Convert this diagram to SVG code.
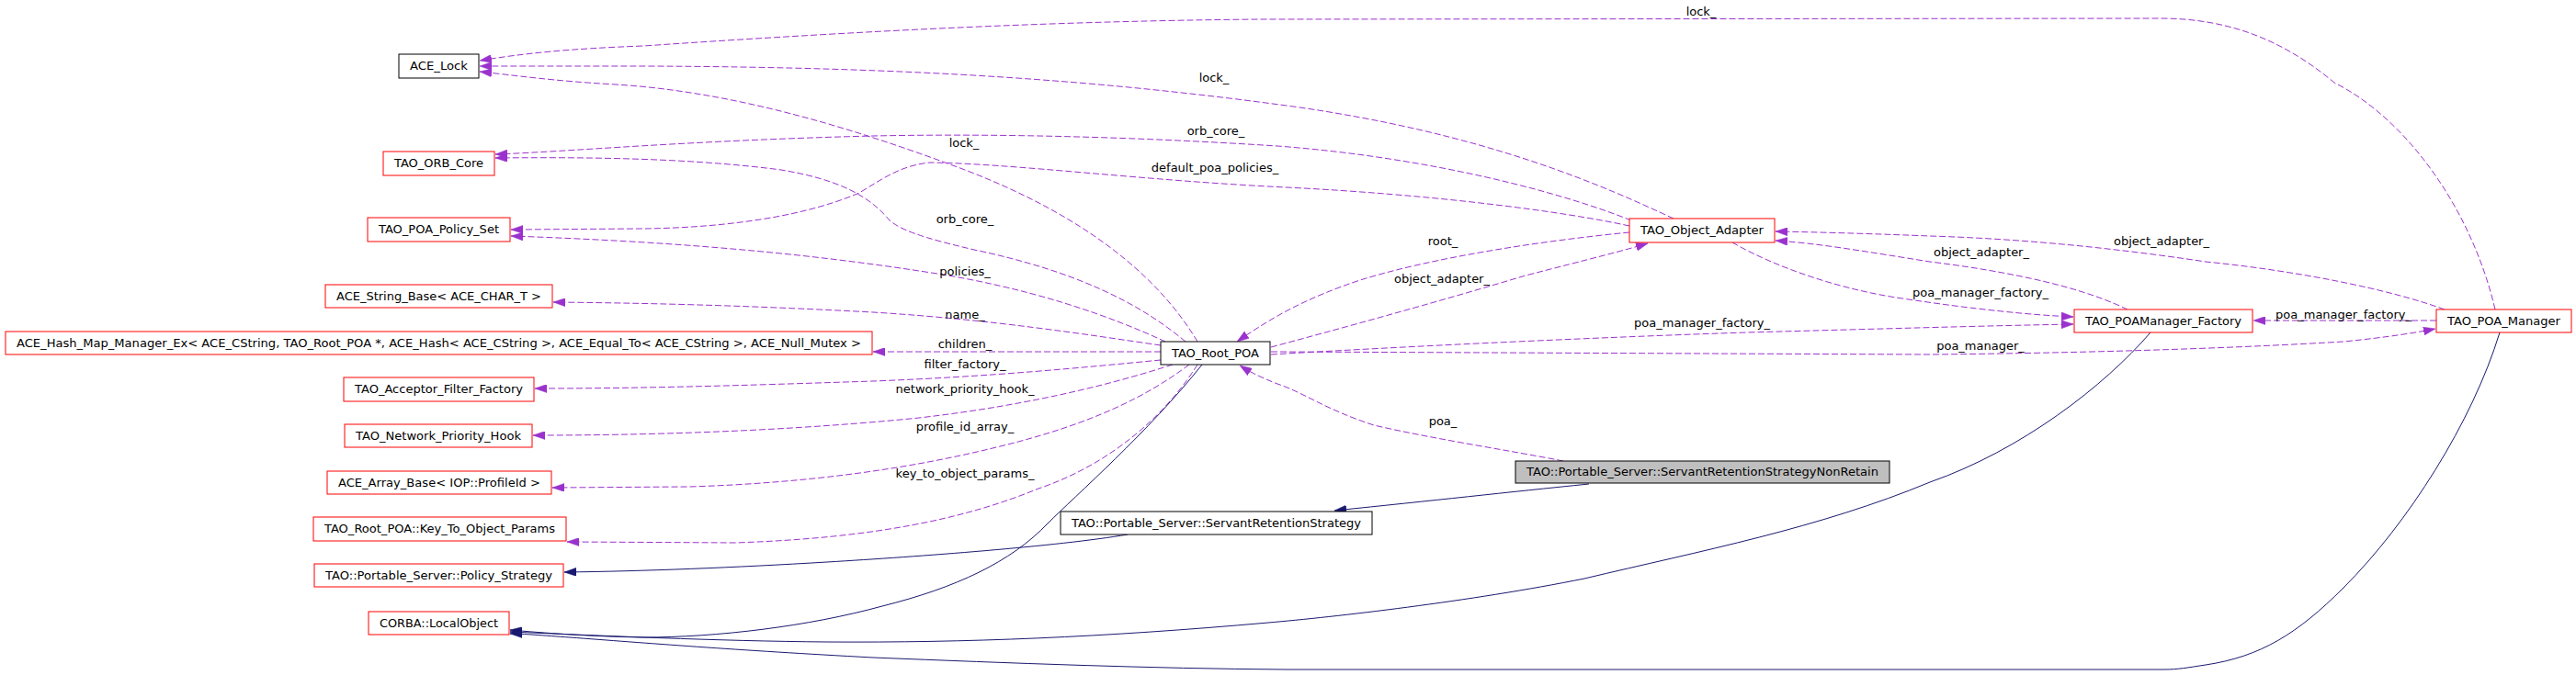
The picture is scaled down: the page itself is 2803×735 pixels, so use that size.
<svg xmlns="http://www.w3.org/2000/svg" width="2803" height="735" viewBox="0 0 2803 735">
<defs>
<style>
.n rect{fill:#ffffff;stroke-width:1}
.red rect{stroke:#ff0000}
.blk rect{stroke:#000000}
.cur rect{fill:#bfbfbf;stroke:#000000}
text{font-family:"DejaVu Sans","Liberation Sans",sans-serif;font-size:13px;fill:#000000;text-anchor:middle}
.u{fill:none;stroke:#9a32cd;stroke-width:1;stroke-dasharray:7,3;marker-end:url(#ap)}
.i{fill:none;stroke:#191970;stroke-width:1;marker-end:url(#ab)}
</style>
<marker id="ap" viewBox="0 0 13 9" refX="13" refY="4.5" markerWidth="13" markerHeight="9" markerUnits="userSpaceOnUse" orient="auto"><path d="M0,0 L13,4.5 L0,9 z" fill="#9a32cd" stroke="#9a32cd" stroke-width="0.5"/></marker>
<marker id="ab" viewBox="0 0 13 9" refX="13" refY="4.5" markerWidth="13" markerHeight="9" markerUnits="userSpaceOnUse" orient="auto"><path d="M0,0 L13,4.5 L0,9 z" fill="#191970" stroke="#191970" stroke-width="0.5"/></marker>
</defs>
<rect width="2803" height="735" fill="#ffffff"/>
<g id="connectors">
<path class="u" d="M2715,337 C2690,230 2620,130 2540,90 C2480,40 2420,20 2350,20 L1370,21 C1150,23 950,33 700,50 C620,53 570,58 522,66"/>
<path class="u" d="M1821,238 C1750,205 1620,145 1400,115 C1200,88 1000,73 700,72 L522,72"/>
<path class="u" d="M1303,372 C1260,300 1180,235 1050,185 C930,140 800,100 670,92 C600,88 560,82 522,78"/>
<path class="u" d="M1775,240 C1700,210 1560,172 1390,159 C1250,150 1100,145 950,148 C750,153 620,165 539,168"/>
<path class="u" d="M1290,372 C1240,330 1170,295 1060,272 C1000,258 980,250 968,240 C945,212 910,195 850,185 C750,172 640,171 539,172"/>
<path class="u" d="M1773,246 C1700,230 1560,212 1400,204 C1250,197 1100,178 1012,177 C980,180 960,195 935,210 C870,238 780,248 700,249 L556,250"/>
<path class="u" d="M1268,372 C1210,345 1120,312 1000,295 C850,272 700,262 556,257"/>
<path class="u" d="M1263,376 C1180,364 1080,348 950,340 C800,332 700,330 602,329"/>
<path class="u" d="M1263,383 L950,383"/>
<path class="u" d="M1263,392 C1180,400 1080,410 950,415 C800,420 700,423 582,423"/>
<path class="u" d="M1276,397 C1220,415 1130,440 1000,455 C850,470 700,474 580,474"/>
<path class="u" d="M1294,397 C1250,430 1190,462 1080,488 C990,510 880,526 750,530 L601,531"/>
<path class="u" d="M1303,397 C1270,450 1210,505 1130,532 C1050,565 950,586 800,591 L617,590"/>
<path class="u" d="M1773,253 C1680,262 1560,280 1480,305 C1420,325 1385,345 1346,372"/>
<path class="u" d="M1383,378 C1450,360 1560,330 1660,300 C1730,282 1770,272 1793,265"/>
<path class="u" d="M1701,502 C1640,490 1560,478 1495,463 C1440,445 1420,428 1390,418 C1372,411 1360,405 1349,398"/>
<path class="u" d="M1383,386 C1550,376 1750,367 1900,362 C2050,358 2150,355 2256,353"/>
<path class="u" d="M1885,264 C1930,290 2000,315 2070,325 C2150,337 2210,343 2256,345"/>
<path class="u" d="M2660,337 C2600,315 2500,295 2400,285 C2300,270 2200,260 2100,257 C2050,255 1990,253 1932,252"/>
<path class="u" d="M2315,337 C2280,320 2220,300 2100,285 C2030,274 1980,265 1932,262"/>
<path class="u" d="M2651,349 L2452,349"/>
<path class="u" d="M1383,383 L2100,386 C2300,384 2450,378 2550,372 C2600,367 2630,362 2650,358"/>
<path class="i" d="M1729,527 C1640,536 1560,545 1452,556"/>
<path class="i" d="M1227,582 C1150,595 1000,606 900,612 C800,618 700,622 614,623"/>
<path class="i" d="M1308,397 C1250,470 1170,540 1140,570 C1100,612 1040,640 960,660 C880,682 780,694 700,694 C640,693 590,689 555,686"/>
<path class="i" d="M2340,362 C2290,420 2200,490 2100,525 C1980,575 1850,600 1724,630 C1600,655 1450,672 1380,678 C1200,694 1050,700 900,699 C780,698 650,692 555,688"/>
<path class="i" d="M2720,362 C2690,460 2620,570 2550,640 C2500,690 2460,715 2400,724 C2380,727 2370,729 2355,729 L1400,729 C1250,728 1100,722 950,716 C800,708 700,700 620,694 C590,692 570,690 555,690"/>
<text x="1851" y="17">lock_</text>
<text x="1321" y="89">lock_</text>
<text x="1049" y="160">lock_</text>
<text x="1323" y="147">orb_core_</text>
<text x="1050" y="243">orb_core_</text>
<text x="1322" y="187">default_poa_policies_</text>
<text x="1050" y="300">policies_</text>
<text x="1050" y="347">name_</text>
<text x="1050" y="379">children_</text>
<text x="1050" y="401">filter_factory_</text>
<text x="1050" y="428">network_priority_hook_</text>
<text x="1050" y="469">profile_id_array_</text>
<text x="1050" y="520">key_to_object_params_</text>
<text x="1570" y="267">root_</text>
<text x="1569" y="308">object_adapter_</text>
<text x="1852" y="356">poa_manager_factory_</text>
<text x="1570" y="463">poa_</text>
<text x="2352" y="267">object_adapter_</text>
<text x="2156" y="279">object_adapter_</text>
<text x="2155" y="323">poa_manager_factory_</text>
<text x="2550" y="347">poa_manager_factory_</text>
<text x="2155" y="381">poa_manager_</text>
</g>
<g id="n_ACE_Lock" class="n blk"><rect x="434" y="59" width="87" height="26"/><text x="477.5" y="76" textLength="63" lengthAdjust="spacingAndGlyphs">ACE_Lock</text></g>
<g id="n_TAO_ORB_Core" class="n red"><rect x="417" y="165" width="121" height="26"/><text x="477.5" y="182" textLength="97" lengthAdjust="spacingAndGlyphs">TAO_ORB_Core</text></g>
<g id="n_TAO_POA_Policy_Set" class="n red"><rect x="400" y="237" width="155" height="26"/><text x="477.5" y="254" textLength="131" lengthAdjust="spacingAndGlyphs">TAO_POA_Policy_Set</text></g>
<g id="n_ACE_String_Base" class="n red"><rect x="354" y="310" width="247" height="25"/><text x="477.5" y="327" textLength="223" lengthAdjust="spacingAndGlyphs">ACE_String_Base&lt; ACE_CHAR_T &gt;</text></g>
<g id="n_ACE_Hash_Map_Manager_Ex" class="n red"><rect x="6" y="361" width="943" height="25"/><text x="477.5" y="378" textLength="919" lengthAdjust="spacingAndGlyphs">ACE_Hash_Map_Manager_Ex&lt; ACE_CString, TAO_Root_POA *, ACE_Hash&lt; ACE_CString &gt;, ACE_Equal_To&lt; ACE_CString &gt;, ACE_Null_Mutex &gt;</text></g>
<g id="n_TAO_Acceptor_Filter_Factory" class="n red"><rect x="374" y="411" width="207" height="26"/><text x="477.5" y="428" textLength="183" lengthAdjust="spacingAndGlyphs">TAO_Acceptor_Filter_Factory</text></g>
<g id="n_TAO_Network_Priority_Hook" class="n red"><rect x="375" y="462" width="204" height="25"/><text x="477" y="479" textLength="180" lengthAdjust="spacingAndGlyphs">TAO_Network_Priority_Hook</text></g>
<g id="n_ACE_Array_Base" class="n red"><rect x="356" y="513" width="244" height="25"/><text x="478" y="530" textLength="220" lengthAdjust="spacingAndGlyphs">ACE_Array_Base&lt; IOP::ProfileId &gt;</text></g>
<g id="n_Key_To_Object_Params" class="n red"><rect x="341" y="563" width="275" height="26"/><text x="478.5" y="580" textLength="251" lengthAdjust="spacingAndGlyphs">TAO_Root_POA::Key_To_Object_Params</text></g>
<g id="n_Policy_Strategy" class="n red"><rect x="342" y="614" width="271" height="25"/><text x="477.5" y="631" textLength="247" lengthAdjust="spacingAndGlyphs">TAO::Portable_Server::Policy_Strategy</text></g>
<g id="n_CORBA_LocalObject" class="n red"><rect x="401" y="666" width="153" height="25"/><text x="477.5" y="683" textLength="129" lengthAdjust="spacingAndGlyphs">CORBA::LocalObject</text></g>
<g id="n_TAO_Root_POA" class="n blk"><rect x="1263" y="372" width="119" height="25"/><text x="1322.5" y="389" textLength="95" lengthAdjust="spacingAndGlyphs">TAO_Root_POA</text></g>
<g id="n_ServantRetentionStrategy" class="n blk"><rect x="1154" y="557" width="339" height="25"/><text x="1323.5" y="574" textLength="315" lengthAdjust="spacingAndGlyphs">TAO::Portable_Server::ServantRetentionStrategy</text></g>
<g id="n_ServantRetentionStrategyNonRetain" class="n cur"><rect x="1649" y="502" width="407" height="24"/><text x="1852.5" y="518" textLength="383" lengthAdjust="spacingAndGlyphs">TAO::Portable_Server::ServantRetentionStrategyNonRetain</text></g>
<g id="n_TAO_Object_Adapter" class="n red"><rect x="1773" y="238" width="158" height="26"/><text x="1852" y="255" textLength="134" lengthAdjust="spacingAndGlyphs">TAO_Object_Adapter</text></g>
<g id="n_TAO_POAManager_Factory" class="n red"><rect x="2257" y="337" width="194" height="25"/><text x="2354" y="354" textLength="170" lengthAdjust="spacingAndGlyphs">TAO_POAManager_Factory</text></g>
<g id="n_TAO_POA_Manager" class="n red"><rect x="2651" y="337" width="147" height="25"/><text x="2724.5" y="354" textLength="123" lengthAdjust="spacingAndGlyphs">TAO_POA_Manager</text></g>
</svg>
